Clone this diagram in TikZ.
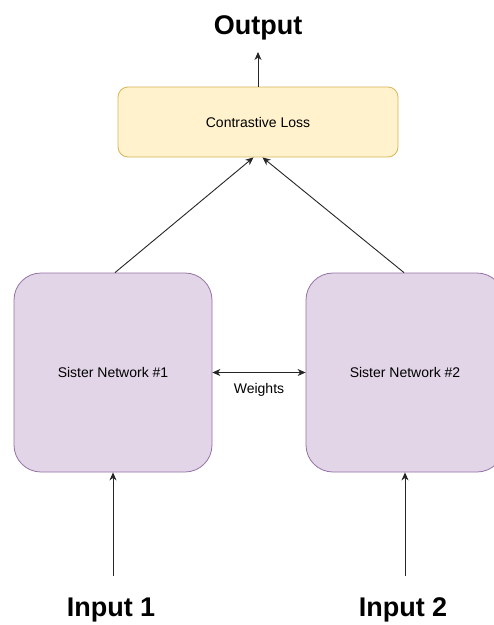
\documentclass[tikz,border=0pt]{standalone}
\usepackage{fontspec}
\setmainfont{Liberation Sans}
\usetikzlibrary{arrows.meta}
\definecolor{lossfill}{HTML}{FFF2CC}
\definecolor{lossdraw}{HTML}{D6B656}
\definecolor{netfill}{HTML}{E1D5E7}
\definecolor{netdraw}{HTML}{9673A6}
\tikzset{
  lossbox/.style={draw=lossdraw, fill=lossfill, rounded corners=10pt, line width=0.8pt,
    minimum width=280pt, minimum height=70pt, inner sep=0pt, font=\fontsize{14}{16}\selectfont},
  netbox/.style={draw=netdraw, fill=netfill, rounded corners=27pt, line width=0.8pt,
    minimum width=198pt, minimum height=199pt, inner sep=0pt, font=\fontsize{14}{16}\selectfont},
  bigtext/.style={font=\bfseries\fontsize{27}{30}\selectfont, inner sep=0pt},
  smalltext/.style={font=\fontsize{14}{16}\selectfont, inner sep=0pt},
  conn/.style={draw=black!85, line width=0.9pt, -{Stealth[length=8pt,width=7pt,inset=2.5pt]}},
  conn2/.style={draw=black!85, line width=0.9pt, {Stealth[length=8pt,width=7pt,inset=2.5pt]}-{Stealth[length=8pt,width=7pt,inset=2.5pt]}}
}
\begin{document}
\begin{tikzpicture}[x=1pt, y=-1pt]
  \useasboundingbox (0,0) rectangle (494,625);
  \clip (0,0) rectangle (494,625);
  \fill[white] (0,0) rectangle (494,625);

  % boxes
  \node[lossbox] (cl) at (258,122) {Contrastive Loss};
  \node[netbox] (s1) at (113,372.5) {Sister Network \#1};
  \node[netbox] (s2) at (405,372.5) {Sister Network \#2};

  % labels
  \node[bigtext] (out) at (258,28) {Output};
  \node[bigtext] (in1) at (111,610) {Input 1};
  \node[bigtext] (in2) at (403,610) {Input 2};
  \node[smalltext] (w) at (259,390) {Weights};

  % end points of the input and output connectors
  \coordinate (outtip) at (258,52);
  \coordinate (in1tail) at (113,576);
  \coordinate (in2tail) at (405,576);

  % connectors
  \draw[conn] (cl.north) -- (outtip);
  \draw[conn] ([xshift=2pt]s1.north) -- ([xshift=-4.5pt]cl.south);
  \draw[conn] ([xshift=-1pt]s2.north) -- ([xshift=4.5pt]cl.south);
  \draw[conn2] (s1.east) -- (s2.west);
  \draw[conn] (in1tail) -- (s1.south);
  \draw[conn] (in2tail) -- (s2.south);
\end{tikzpicture}
\end{document}
